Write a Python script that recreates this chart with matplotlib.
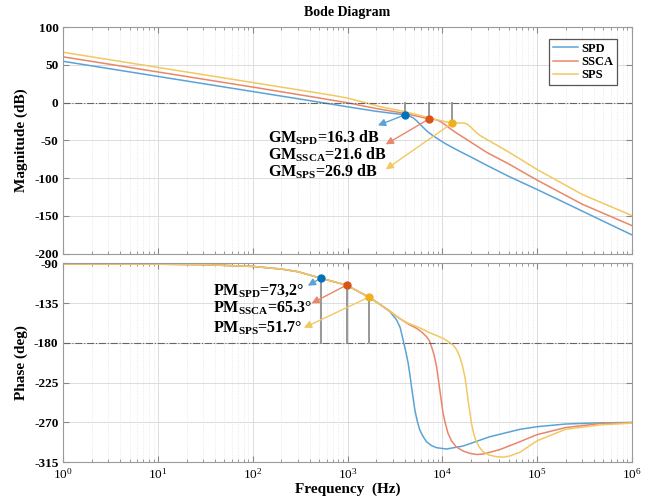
""" Bode diagram of the three converter loops with gain and phase margins. """

import matplotlib.pyplot as plt
from matplotlib.ticker import LogLocator, NullFormatter

plt.rcParams['font.family'] = ['Liberation Serif', 'DejaVu Serif']
plt.rcParams['mathtext.fontset'] = 'custom'
plt.rcParams['mathtext.rm'] = 'Liberation Serif'
plt.rcParams['mathtext.bf'] = 'Liberation Serif:bold'
plt.rcParams['mathtext.it'] = 'Liberation Serif:italic'

# Loop names, curve colours (washed-out MATLAB palette) and marker colours.
names = ['SPD', 'SSCA', 'SPS']
line_colors = ['#5ba3d6', '#e8876a', '#f2c862']
mark_colors = ['#0072BD', '#D95319', '#EDB120']

# Magnitude curves (Hz, dB).
spd_mag_f = [1, 10, 100, 500, 1000, 2000, 3000, 3600, 4020, 4500, 4900, 5300,
             5800, 6300, 7000, 8000, 9500, 11000, 15000, 20000, 30000, 50000,
             1e5, 2e5, 5e5, 1e6]
spd_mag = [54.6, 34.6, 14.6, 0.6, -5.6, -11.5, -14.3, -15.4, -16.3, -17.8,
           -20.0, -23.5, -28.5, -33, -38.5, -44, -50, -55, -64, -72, -83.5,
           -97.5, -115, -133, -157, -175]
ssca_mag_f = [1, 10, 100, 500, 1000, 2000, 3000, 4000, 5000, 6000, 7260, 8000,
              8700, 9500, 10500, 12000, 14000, 18000, 30000, 50000, 1e5, 3e5,
              1e6]
ssca_mag = [60.5, 40.5, 20.5, 6.1, -0.3, -7.8, -11.6, -14.4, -17.0, -19.3,
            -21.6, -22.2, -22.8, -25, -28.5, -34, -40, -48.7, -66.5, -81,
            -102.6, -134.5, -162.7]
sps_mag_f = [1, 10, 100, 650, 1000, 2190, 4020, 5500, 7260, 9000, 11000, 12800,
             14500, 16000, 17300, 18500, 20000, 21100, 23000, 25000, 31700,
             51600, 1e5, 3e5, 1e6]
sps_mag = [66.5, 46.5, 26.5, 10.2, 6.0, -5.2, -12.0, -16.3, -20.0, -23, -25.5,
           -26.9, -27.0, -27.0, -27.3, -29, -32.5, -35.4, -40, -43.5, -51,
           -66.3, -88.5, -121.6, -149.5]

# Phase curves (Hz, deg).
spd_ph_f = [1, 10, 30, 100, 200, 300, 520, 977, 1680, 2200, 2790, 3290, 3600,
            3860, 4100, 4360, 4550, 4730, 4930, 5130, 5450, 5790, 6300, 6810,
            7700, 8700, 11070, 16600, 31700, 66000, 1e5, 2e5, 4e5, 1e6]
spd_ph = [-90.8, -91.0, -91.5, -93.5, -96.5, -99.5, -106.8, -114.7, -128.3,
          -136.5, -144.5, -154, -163, -176.9, -189, -203, -216, -229.7, -243,
          -256, -269, -278.8, -286.5, -292, -296.5, -298.8, -300.3, -296.9,
          -286.4, -278, -275, -272, -270.8, -270.2]
ssca_ph_f = [1, 10, 30, 100, 200, 300, 520, 977, 1680, 2200, 2790, 3290, 3860,
             4500, 5350, 6100, 6810, 7300, 7700, 8200, 8700, 9050, 9420, 9800,
             10200, 10800, 11500, 12500, 14000, 16500, 19500, 23000, 27000,
             40400, 66000, 1e5, 2e5, 4.6e5, 1e6]
ssca_ph = [-90.8, -91.0, -91.5, -93.5, -96.5, -99.5, -106.8, -114.7, -128.3,
           -136.5, -144, -150, -155, -159.5, -163.6, -168, -173, -177.5,
           -184.4, -194, -207, -220, -233.5, -247, -259.9, -272, -282.5, -291,
           -297.7, -302.5, -305.2, -306.5, -306, -301, -292, -284, -276,
           -271.5, -270.5]
sps_ph_f = [1, 10, 30, 100, 200, 300, 520, 977, 1680, 2200, 2790, 3290, 3860,
            4500, 5350, 6300, 7380, 8700, 10200, 11500, 13000, 14200, 15300,
            16300, 17300, 18000, 18700, 19500, 20300, 21300, 22500, 24500,
            27000, 31000, 37300, 45000, 51600, 66000, 1e5, 2e5, 4.6e5, 1e6]
sps_ph = [-90.8, -91.0, -91.5, -93.5, -96.5, -99.5, -106.8, -114.7, -128.3,
          -136.5, -144, -150, -155, -158.5, -161.5, -165, -168.6, -171.8, -175,
          -178.5, -182.5, -188, -195.7, -206, -218.4, -231, -244.8, -258,
          -271.2, -281.5, -290, -298, -303.4, -307, -309, -309.5, -308.2, -304,
          -291, -278, -273, -271]

# Margins: phase-crossover freq / gain margin, gain-crossover freq / phase margin.
gm_freq = [4020, 7260, 12800]
gm_db = [16.3, 21.6, 26.9]
pm_freq = [520, 977, 1680]
pm_deg = [73.2, 65.3, 51.7]
pm_text = ['73,2', '65.3', '51.7']

# Where the margin arrows point.
gm_tip_f = [2090, 2530, 2530]
gm_tip_db = [-30.2, -55.3, -88.4]
pm_tip_f = [381, 417, 346]
pm_tip_deg = [-115.4, -135.3, -163.0]

mag_f = [spd_mag_f, ssca_mag_f, sps_mag_f]
mag = [spd_mag, ssca_mag, sps_mag]
ph_f = [spd_ph_f, ssca_ph_f, sps_ph_f]
ph = [spd_ph, ssca_ph, sps_ph]

fig = plt.figure(figsize=(6.49, 5.03), dpi=100)
ax1 = fig.add_axes([0.0975, 0.4956, 0.876, 0.4507])
ax2 = fig.add_axes([0.0975, 0.0815, 0.876, 0.395])

for ax in (ax1, ax2):
    ax.set_xscale('log')
    ax.set_xlim(1, 1e6)
    ax.xaxis.set_major_locator(LogLocator(base=10, numticks=10))
    ax.xaxis.set_minor_locator(LogLocator(base=10, subs=range(2, 10), numticks=20))
    ax.xaxis.set_minor_formatter(NullFormatter())
    ax.grid(True, which='major', color='#dcdcdc', lw=0.7)
    ax.grid(True, which='minor', axis='x', color='#e4e4e4', lw=0.6, ls=':')
    ax.tick_params(which='both', direction='in', top=True, right=True,
                   color='#888888', labelsize=9.5)
    ax.tick_params(which='major', length=4)
    ax.tick_params(which='minor', length=2)
    for s in ax.spines.values():
        s.set_color('#9a9a9a')
    ax.set_axisbelow(True)

# Magnitude plot
for i in range(3):
    ax1.plot(mag_f[i], mag[i], color=line_colors[i], lw=1.1, label=names[i])
ax1.axhline(0, color='#666666', lw=0.8, ls='-.')
ax1.set_ylim(-200, 100)
ax1.set_yticks(range(-200, 101, 50))
ax1.set_yticklabels([str(v) for v in range(-200, 101, 50)], fontweight='bold')
ax1.tick_params(axis='x', labelbottom=False)
ax1.set_ylabel('Magnitude (dB)', fontweight='bold', fontsize=11)
ax1.set_title('Bode Diagram', fontweight='bold', fontsize=10, pad=8)

for i in range(3):
    ax1.plot([gm_freq[i], gm_freq[i]], [0, -gm_db[i]], color='#909090', lw=1.3)
    ax1.annotate('', xy=(gm_tip_f[i], gm_tip_db[i]), xytext=(gm_freq[i], -gm_db[i]),
                 arrowprops=dict(arrowstyle='-|>', color=line_colors[i], lw=1.0,
                                 mutation_scale=11, shrinkA=0, shrinkB=0))
    ax1.plot([gm_tip_f[i]], [gm_tip_db[i]], alpha=0)
    ax1.plot(gm_freq[i], -gm_db[i], 'o', color=mark_colors[i], ms=5, zorder=5)

gm_y = [-46.0, -69.5, -92.0]
for i in range(3):
    ax1.text(144, gm_y[i], 'GM$_{\\mathbf{%s}}$=%.1f dB' % (names[i], gm_db[i]),
             fontweight='bold', fontsize=11.5, va='center', ha='left')

leg = ax1.legend(loc='upper right', bbox_to_anchor=(0.974, 0.947),
                 borderaxespad=0, prop={'weight': 'bold', 'size': 9},
                 fancybox=False, handlelength=2.0, borderpad=0.3,
                 labelspacing=0.1, handletextpad=0.3, framealpha=1)
leg.get_frame().set_edgecolor('#555555')
leg.get_frame().set_linewidth(0.9)

# Phase plot
for i in range(3):
    ax2.plot(ph_f[i], ph[i], color=line_colors[i], lw=1.1)
ax2.axhline(-180, color='#666666', lw=0.8, ls='-.')
ax2.set_ylim(-315, -90)
ax2.set_yticks(range(-315, -89, 45))
ax2.set_yticklabels([str(v) for v in range(-315, -89, 45)], fontweight='bold')
ax2.set_ylabel('Phase (deg)', fontweight='bold', fontsize=11)
ax2.set_xlabel('Frequency  (Hz)', fontweight='bold', fontsize=11, labelpad=1)

for i in range(3):
    ax2.plot([pm_freq[i], pm_freq[i]], [-180, -180 + pm_deg[i]], color='#909090', lw=1.3)
    ax2.annotate('', xy=(pm_tip_f[i], pm_tip_deg[i]), xytext=(pm_freq[i], -180 + pm_deg[i]),
                 arrowprops=dict(arrowstyle='-|>', color=line_colors[i], lw=1.0,
                                 mutation_scale=11, shrinkA=0, shrinkB=0))
    ax2.plot(pm_freq[i], -180 + pm_deg[i], 'o', color=mark_colors[i], ms=5, zorder=5)

pm_y = [-121.0, -141.5, -164.0]
for i in range(3):
    ax2.text(38, pm_y[i], 'PM$_{\\mathbf{%s}}$=%s°' % (names[i], pm_text[i]),
             fontweight='bold', fontsize=11.5, va='center', ha='left')

fig.savefig('out.png', dpi=100)
